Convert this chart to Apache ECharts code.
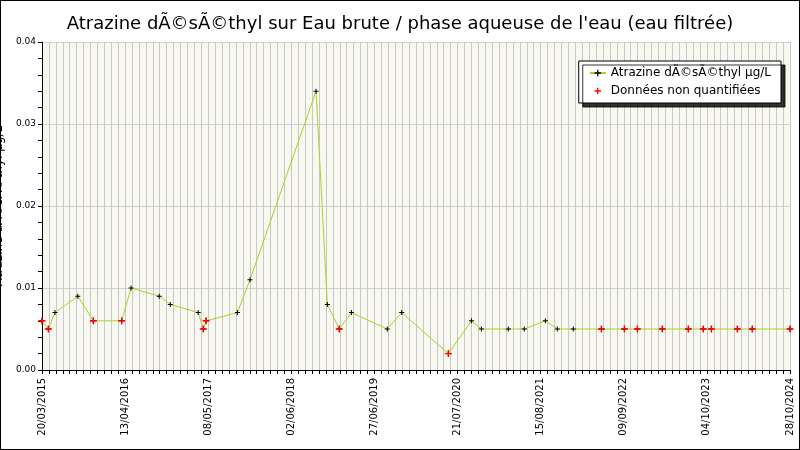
<!DOCTYPE html>
<html><head><meta charset="utf-8">
<script src="https://cdn.jsdelivr.net/npm/echarts@6/dist/echarts.min.js"></script>
<style>html,body{margin:0;padding:0}#c{width:798px;height:448px;border:1px solid #000}</style>
</head><body><div id="c"></div>
<script>
// days since 20/03/2015
const sampleDays = [0,30,61,168,241,374,418,550,602,733,757,770,917,976,1286,1339,1395,1452,1620,1688,1907,2015,2062,2188,2263,2362,2418,2493,2625,2733,2794,2911,3033,3103,3141,3263,3333,3510];
const values = [0.006,0.005,0.007,0.009,0.006,0.006,0.010,0.009,0.008,0.007,0.005,0.006,0.007,0.011,0.034,0.008,0.005,0.007,0.005,0.007,0.002,0.006,0.005,0.005,0.005,0.006,0.005,0.005,0.005,0.005,0.005,0.005,0.005,0.005,0.005,0.005,0.005,0.005];
const nonQuant = [1,1,0,0,1,1,0,0,0,0,1,1,0,0,0,0,1,0,0,0,1,0,0,0,0,0,0,0,1,1,1,1,1,1,1,1,1,1];
const tickLabels = ['20/03/2015','13/04/2016','08/05/2017','02/06/2018','27/06/2019','21/07/2020','15/08/2021','09/09/2022','04/10/2023','28/10/2024'];
const plus = 'path://M4,0h2v4h4v2h-4v4h-2v-4h-4v-2h4z';
const all = sampleDays.map((d,i)=>[d,values[i]]);
const nq = sampleDays.map((d,i)=>[d,values[i]]).filter((p,i)=>nonQuant[i]);
const ch = echarts.init(document.getElementById('c'));
ch.setOption({
  animation:false,
  backgroundColor:'#fff',
  textStyle:{fontFamily:'DejaVu Sans'},
  title:{text:"Atrazine dÃ©sÃ©thyl sur Eau brute / phase aqueuse de l'eau (eau filtrée)",left:'center',top:9,textStyle:{fontSize:18,fontWeight:'normal',color:'#000',fontFamily:'DejaVu Sans'}},
  grid:{left:41,right:9,top:41,bottom:79,backgroundColor:'#f8f8f0',show:true,borderWidth:0,containLabel:false,outerBoundsMode:'none'},
  legend:{top:60,right:18,orient:'vertical',backgroundColor:'#fff',borderColor:'#000',borderWidth:1,padding:[6,10],itemGap:6,
    shadowColor:'rgba(0,0,0,0.8)',shadowOffsetX:4,shadowOffsetY:4,shadowBlur:0,
    textStyle:{fontSize:12,color:'#000'},itemWidth:16,itemHeight:8,
    data:[{name:'Atrazine dÃ©sÃ©thyl µg/L'},{name:'Données non quantifiées'}]},
  xAxis:{type:'value',min:0,max:3510,interval:390,
    axisLine:{lineStyle:{color:'#000'}},
    axisTick:{show:true,length:4,lineStyle:{color:'#000'}},
    minorTick:{show:true,splitNumber:12,length:4,lineStyle:{color:'#000'}},
    splitLine:{show:true,lineStyle:{color:'#c8c8c8'}},
    minorSplitLine:{show:true,lineStyle:{color:'#c8c8c8'}},
    axisLabel:{rotate:90,fontSize:10,color:'#000',formatter:(v)=>tickLabels[Math.round(v/390)]||''}},
  yAxis:{type:'value',min:0,max:0.04,interval:0.01,
    name:'Atrazine dÃ©sÃ©thyl µg/L',nameLocation:'middle',nameGap:24,nameTextStyle:{fontSize:12,color:'#000'},
    axisLine:{show:true,lineStyle:{color:'#000'}},
    axisTick:{show:true,length:4,lineStyle:{color:'#000'}},
    minorTick:{show:true,splitNumber:5,length:4,lineStyle:{color:'#000'}},
    splitLine:{show:true,lineStyle:{color:'#d0d0d0'}},
    axisLabel:{fontSize:9,color:'#000',margin:6,formatter:(v)=>v===0?'0.00':v.toFixed(2)}},
  series:[
    {name:'Atrazine dÃ©sÃ©thyl µg/L',type:'line',data:all,symbol:plus,symbolSize:5,
      lineStyle:{color:'#a6d42a',width:1},itemStyle:{color:'#000'},z:2},
    {name:'Données non quantifiées',type:'line',data:nq,symbol:plus,symbolSize:7,
      lineStyle:{width:0,color:'#ff0000'},itemStyle:{color:'#ff0000'},z:3}
  ]
});
</script></body></html>
